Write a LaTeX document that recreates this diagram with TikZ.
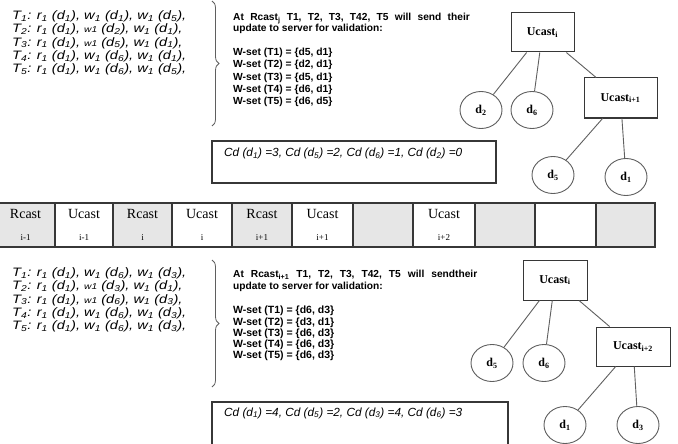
\documentclass[tikz,border=0pt]{standalone}
\usepackage{fontspec}
\setmainfont{Liberation Serif}
\setsansfont{Liberation Sans}
\newfontfamily\opsfont[FakeStretch=1.2]{Liberation Sans}
\usepackage{xcolor}
\usetikzlibrary{shapes.geometric, decorations.pathreplacing}
\definecolor{cellGray}{RGB}{230, 230, 230}
\definecolor{lineGray}{RGB}{95, 95, 95}
\definecolor{frameGray}{RGB}{55, 55, 55}
\newcommand{\sbs}[1]{\textsubscript{#1}}
\newcommand{\smw}{{\fontsize{8.5}{8}\selectfont w1}}
\newcommand{\cellsub}[1]{{\fontsize{9}{22}\selectfont #1}}

\begin{document}
\begin{tikzpicture}[x=1pt, y=-1pt,
	cell/.style={draw=frameGray, line width=1.1pt, minimum height=44pt, inner sep=0pt, align=center, font=\fontsize{14}{22}\selectfont},
	ubox/.style={draw=frameGray, line width=1pt, inner sep=0pt, font=\bfseries\fontsize{12}{14}\selectfont},
	dnode/.style={ellipse, draw=lineGray, line width=0.9pt, minimum width=42pt, minimum height=37pt, inner sep=0pt, font=\bfseries\fontsize{12}{14}\selectfont},
	edge/.style={draw=lineGray, line width=0.9pt},
	brc/.style={draw=lineGray, line width=0.8pt, decorate, decoration={brace, amplitude=7pt}},
	ops/.style={anchor=north west, inner sep=0pt, align=left, font=\opsfont\itshape\fontsize{12.2}{13.3}\selectfont},
	hdr/.style={anchor=north west, inner sep=0pt, align=left, font=\sffamily\bfseries\fontsize{10.2}{11}\selectfont},
	cdtext/.style={anchor=base west, inner sep=0pt, font=\sffamily\itshape\fontsize{11.8}{12}\selectfont}]
	\useasboundingbox (0,0) rectangle (678,444);
	\fill[white] (0,0) rectangle (678,444);

	% Operations of the transactions, first period
	\node[ops] (opsTop) at (12,10.5) {%
		T\sbs{1}: r\sbs{1} (d\sbs{1}), w\sbs{1} (d\sbs{1}), w\sbs{1} (d\sbs{5}),\\
		T\sbs{2}: r\sbs{1} (d\sbs{1}), \smw{} (d\sbs{2}), w\sbs{1} (d\sbs{1}),\\
		T\sbs{3}: r\sbs{1} (d\sbs{1}), \smw{} (d\sbs{5}), w\sbs{1} (d\sbs{1}),\\
		T\sbs{4}: r\sbs{1} (d\sbs{1}), w\sbs{1} (d\sbs{6}), w\sbs{1} (d\sbs{1}),\\
		T\sbs{5}: r\sbs{1} (d\sbs{1}), w\sbs{1} (d\sbs{6}), w\sbs{1} (d\sbs{5}),};
	\coordinate (braceTopA) at (212,1);
	\coordinate (braceTopB) at (212,126);
	\draw[brc] (braceTopA) -- (braceTopB);

	% Write sets sent at Rcast j
	\node[hdr] (hdrTop) at (233,13) {{\spaceskip=6.3pt\relax At Rcast\sbs{j} T1, T2, T3, T42, T5 will send their}\\update to server for validation:};
	\node[hdr, font=\sffamily\bfseries\fontsize{10.3}{12.2}\selectfont] (wsetTop) at (233,48) {%
		W-set (T1) = \{d5, d1\}\\
		W-set (T2) = \{d2, d1\}\\
		W-set (T3) = \{d5, d1\}\\
		W-set (T4) = \{d6, d1\}\\
		W-set (T5) = \{d6, d5\}};

	% Counters, first period
	\draw[frameGray, line width=1.1pt] (212,141) rectangle (496,183);
	\node[cdtext] (cdTop) at (224,157) {Cd (d\sbs{1}) =3, Cd (d\sbs{5}) =2, Cd (d\sbs{6}) =1, Cd (d\sbs{2}) =0};

	% Tree, first period
	\node[ubox, minimum width=63pt, minimum height=39pt] (uTop) at (542.5,32.5) {Ucast\sbs{i}};
	\node[ubox, minimum width=73pt, minimum height=40pt] (uNext) at (620.5,98) {Ucast\sbs{i+1}};
	\node[dnode] (dTwoT) at (481,110) {d\sbs{2}};
	\node[dnode] (dSixT) at (532,110) {d\sbs{6}};
	\node[dnode] (dFiveT) at (553,175) {d\sbs{5}};
	\node[dnode] (dOneT) at (626,177) {d\sbs{1}};
	\draw[edge] (uTop) -- (dTwoT);
	\draw[edge] (uTop) -- (dSixT);
	\draw[edge] (uTop) -- (uNext);
	\draw[edge] (uNext) -- (dFiveT);
	\draw[edge] (uNext) -- (dOneT);

	% Broadcast strip
	\node[cell, fill=cellGray, minimum width=59pt] (c1) at (25.5,225) {Rcast\\\cellsub{i-1}};
	\node[cell, fill=white, minimum width=58pt] (c2) at (84,225) {Ucast\\\cellsub{i-1}};
	\node[cell, fill=cellGray, minimum width=59pt] (c3) at (142.5,225) {Rcast\\\cellsub{i}};
	\node[cell, fill=white, minimum width=60pt] (c4) at (202,225) {Ucast\\\cellsub{i}};
	\node[cell, fill=cellGray, minimum width=60pt] (c5) at (262,225) {Rcast\\\cellsub{i+1}};
	\node[cell, fill=white, minimum width=61pt] (c6) at (322.5,225) {Ucast\\\cellsub{i+1}};
	\node[cell, fill=cellGray, minimum width=60pt] (c7) at (383,225) {};
	\node[cell, fill=white, minimum width=62pt] (c8) at (444,225) {Ucast\\\cellsub{i+2}};
	\node[cell, fill=cellGray, minimum width=60pt] (c9) at (505,225) {};
	\node[cell, fill=white, minimum width=61pt] (c10) at (565.5,225) {};
	\node[cell, fill=cellGray, minimum width=59pt] (c11) at (625.5,225) {};

	% Operations of the transactions, second period
	\node[ops] (opsBot) at (12,267.5) {%
		T\sbs{1}: r\sbs{1} (d\sbs{1}), w\sbs{1} (d\sbs{6}), w\sbs{1} (d\sbs{3}),\\
		T\sbs{2}: r\sbs{1} (d\sbs{1}), \smw{} (d\sbs{3}), w\sbs{1} (d\sbs{1}),\\
		T\sbs{3}: r\sbs{1} (d\sbs{1}), \smw{} (d\sbs{6}), w\sbs{1} (d\sbs{3}),\\
		T\sbs{4}: r\sbs{1} (d\sbs{1}), w\sbs{1} (d\sbs{6}), w\sbs{1} (d\sbs{3}),\\
		T\sbs{5}: r\sbs{1} (d\sbs{1}), w\sbs{1} (d\sbs{6}), w\sbs{1} (d\sbs{3}),};
	\coordinate (braceBotA) at (212,260);
	\coordinate (braceBotB) at (212,387);
	\draw[brc] (braceBotA) -- (braceBotB);

	% Write sets sent at Rcast i+1
	\node[hdr, font=\sffamily\bfseries\fontsize{10.2}{12}\selectfont] (hdrBot) at (233,270) {{\spaceskip=7pt\relax At Rcast\sbs{i+1} T1, T2, T3, T42, T5 will sendtheir}\\update to server for validation:};
	\node[hdr, font=\sffamily\bfseries\fontsize{10.5}{11.2}\selectfont] (wsetBot) at (233,306) {%
		W-set (T1) = \{d6, d3\}\\
		W-set (T2) = \{d3, d1\}\\
		W-set (T3) = \{d6, d3\}\\
		W-set (T4) = \{d6, d3\}\\
		W-set (T5) = \{d6, d3\}};

	% Counters, second period
	\draw[frameGray, line width=1.1pt] (212,402) rectangle (508,452);
	\node[cdtext] (cdBot) at (224,416) {Cd (d\sbs{1}) =4, Cd (d\sbs{5}) =2, Cd (d\sbs{3}) =4, Cd (d\sbs{6}) =3};

	% Tree, second period
	\node[ubox, minimum width=64pt, minimum height=40pt] (uBot) at (555,280) {Ucast\sbs{i}};
	\node[ubox, minimum width=74pt, minimum height=39pt] (uAfter) at (633,346.5) {Ucast\sbs{i+2}};
	\node[dnode] (dFiveB) at (492,363) {d\sbs{5}};
	\node[dnode] (dSixB) at (544,363) {d\sbs{6}};
	\node[dnode] (dOneB) at (565,425) {d\sbs{1}};
	\node[dnode] (dThreeB) at (638,425) {d\sbs{3}};
	\draw[edge] (uBot) -- (dFiveB);
	\draw[edge] (uBot) -- (dSixB);
	\draw[edge] (uBot) -- (uAfter);
	\draw[edge] (uAfter) -- (dOneB);
	\draw[edge] (uAfter) -- (dThreeB);
\end{tikzpicture}
\end{document}
